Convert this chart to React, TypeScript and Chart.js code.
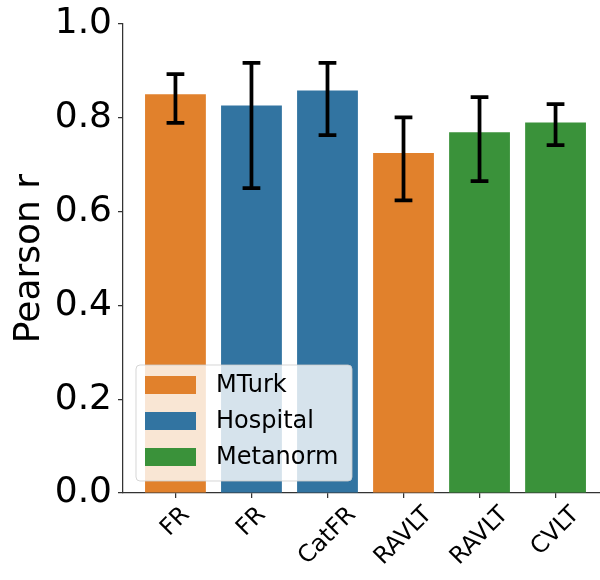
import React, { useEffect, useRef } from 'react';
import { Chart, registerables } from 'chart.js';
Chart.register(...registerables);

const categories = ['FR', 'FR', 'CatFR', 'RAVLT', 'RAVLT', 'CVLT'];
const groups = ['MTurk', 'Hospital', 'Hospital', 'MTurk', 'Metanorm', 'Metanorm'];
const values = [0.85, 0.826, 0.858, 0.725, 0.769, 0.79];
const errLow = [0.789, 0.65, 0.763, 0.624, 0.665, 0.742];
const errHigh = [0.893, 0.917, 0.917, 0.801, 0.844, 0.829];
const legendLabels = ['MTurk', 'Hospital', 'Metanorm'];
const legendColors = ['#e1812c', '#3274a1', '#3a923a'];
const yTicks = [0, 0.2, 0.4, 0.6, 0.8, 1.0];
const yTitle = 'Pearson r';

const FONT = '"DejaVu Sans", sans-serif';
const AXIS_COLOR = '#333333';

const colorOf = (g: string) => legendColors[legendLabels.indexOf(g)];

const overlayPlugin = {
  id: 'overlay',
  afterDatasetsDraw(chart: any) {
    const { ctx, scales } = chart;
    const x = scales.x;
    const y = scales.y;
    ctx.save();
    ctx.strokeStyle = '#000000';
    ctx.lineWidth = 3.75;
    ctx.lineCap = 'square';
    values.forEach((_, i) => {
      const px = x.getPixelForValue(i);
      const yl = y.getPixelForValue(errLow[i]);
      const yh = y.getPixelForValue(errHigh[i]);
      ctx.beginPath();
      ctx.moveTo(px, yl);
      ctx.lineTo(px, yh);
      ctx.moveTo(px - 7, yl);
      ctx.lineTo(px + 7, yl);
      ctx.moveTo(px - 7, yh);
      ctx.lineTo(px + 7, yh);
      ctx.stroke();
    });
    ctx.restore();
  },
  afterDraw(chart: any) {
    const { ctx, scales, chartArea } = chart;
    const x = scales.x;
    const fs = 23.6;
    ctx.save();
    ctx.fillStyle = '#000000';
    ctx.font = `${fs}px ${FONT}`;
    categories.forEach((c, i) => {
      const px = x.getPixelForValue(i);
      const L = ctx.measureText(c).width;
      const h = fs * 0.996;
      const d = (L + h) * Math.SQRT1_2;
      const cy = chartArea.bottom + 10 + d / 2;
      ctx.save();
      ctx.translate(px, cy);
      ctx.rotate(-Math.PI / 4);
      ctx.textAlign = 'center';
      ctx.textBaseline = 'alphabetic';
      ctx.fillText(c, 0, fs * 0.262);
      ctx.restore();
    });
    ctx.restore();

    const left = chartArea.left + 13;
    const bottom = chartArea.bottom - 12;
    const w = 216;
    const hgt = 116;
    const top = bottom - hgt;
    ctx.save();
    ctx.beginPath();
    const r = 4;
    ctx.moveTo(left + r, top);
    ctx.lineTo(left + w - r, top);
    ctx.arcTo(left + w, top, left + w, top + r, r);
    ctx.lineTo(left + w, bottom - r);
    ctx.arcTo(left + w, bottom, left + w - r, bottom, r);
    ctx.lineTo(left + r, bottom);
    ctx.arcTo(left, bottom, left, bottom - r, r);
    ctx.lineTo(left, top + r);
    ctx.arcTo(left, top, left + r, top, r);
    ctx.closePath();
    ctx.fillStyle = 'rgba(255,255,255,0.8)';
    ctx.fill();
    ctx.strokeStyle = 'rgba(204,204,204,0.8)';
    ctx.lineWidth = 1;
    ctx.stroke();
    ctx.font = `24px ${FONT}`;
    ctx.textBaseline = 'middle';
    ctx.textAlign = 'left';
    legendLabels.forEach((lab, i) => {
      const cy = top + 20 + i * 36;
      ctx.fillStyle = legendColors[i];
      ctx.fillRect(left + 9, cy - 9, 51, 18);
      ctx.fillStyle = '#000000';
      ctx.fillText(lab, left + 80, cy + 1);
    });
    ctx.restore();
  },
};

export default function App() {
  const ref = useRef<HTMLCanvasElement>(null);
  useEffect(() => {
    if (!ref.current) return;
    const chart = new Chart(ref.current, {
      type: 'bar',
      data: {
        datasets: [
          {
            data: values.map((v, i) => ({ x: i, y: v })) as any,
            backgroundColor: groups.map(colorOf),
            borderWidth: 0,
            barPercentage: 1,
            categoryPercentage: 0.8,
          },
        ],
      },
      options: {
        animation: false,
        responsive: false,
        maintainAspectRatio: false,
        devicePixelRatio: 1,
        layout: { padding: { top: 21, right: 12, bottom: 82, left: 0 } },
        plugins: { legend: { display: false }, tooltip: { enabled: false }, title: { display: false } },
        scales: {
          x: {
            type: 'linear',
            min: -0.69,
            max: 5.69,
            offset: false,
            z: 1,
            afterBuildTicks: (s: any) => {
              s.ticks = categories.map((_, i) => ({ value: i }));
            },
            ticks: { display: false },
            grid: { offset: false, drawOnChartArea: false, drawTicks: true, tickLength: 5, color: AXIS_COLOR, lineWidth: 1.25 },
            border: { display: true, color: AXIS_COLOR, width: 1.25 },
          },
          y: {
            min: 0,
            max: 1,
            z: 1,
            afterBuildTicks: (s: any) => {
              s.ticks = yTicks.map((v) => ({ value: v }));
            },
            afterFit: (s: any) => {
              s.width = 123;
            },
            ticks: {
              padding: 6,
              color: '#000000',
              font: { family: FONT, size: 36, lineHeight: 1 },
              callback: (v: any) => Number(v).toFixed(1),
            },
            grid: { drawOnChartArea: false, drawTicks: true, tickLength: 5, color: AXIS_COLOR, lineWidth: 1.25 },
            border: { display: true, color: AXIS_COLOR, width: 1.25 },
            title: {
              display: true,
              text: yTitle,
              color: '#000000',
              font: { family: FONT, size: 36 },
              padding: { top: 8, bottom: 0 },
            },
          },
        },
      },
      plugins: [overlayPlugin],
    });
    return () => chart.destroy();
  }, []);
  return (
    <div style={{ position: 'fixed', left: 0, top: 0, width: 600, height: 580, overflow: 'hidden', background: '#fff' }}>
      <canvas ref={ref} width={620} height={580} style={{ display: 'block', width: 620, height: 580 }} />
    </div>
  );
}
